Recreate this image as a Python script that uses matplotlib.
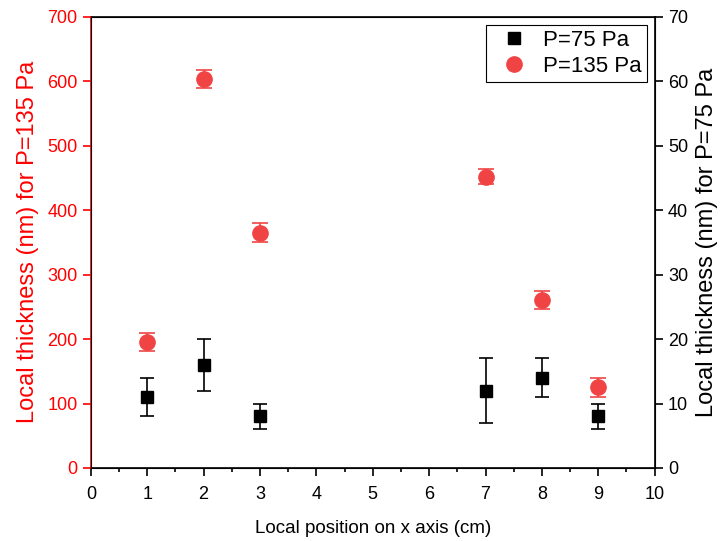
import matplotlib
matplotlib.use('Agg')
matplotlib.rcParams['font.family'] = 'sans-serif'
matplotlib.rcParams['font.sans-serif'] = ['Liberation Sans', 'DejaVu Sans']
matplotlib.rcParams['font.size'] = 13
matplotlib.rcParams['xtick.direction'] = 'out'
matplotlib.rcParams['ytick.direction'] = 'out'
import matplotlib.pyplot as plt
from matplotlib.lines import Line2D
from matplotlib.ticker import MultipleLocator

red = '#F04444'   # markers
axred = '#FF0000'  # left axis

# data
x = [1, 2, 3, 7, 8, 9]
t135 = [196, 603, 365, 452, 261, 125]
e135 = [14, 14, 15, 12, 14, 15]
t75 = [11, 16, 8, 12, 14, 8]
e75 = [3, 4, 2, 5, 3, 2]

fig = plt.figure(figsize=(7.21, 5.41), dpi=100)
ax = fig.add_axes([0.126, 0.135, 0.782, 0.834])
ax2 = ax.twinx()

ax2.errorbar(x, t75, yerr=e75, fmt='s', color='black', ms=9, capsize=5,
             elinewidth=1.2, capthick=1.2)
ax.errorbar(x, t135, yerr=e135, fmt='o', color=red, ms=11, capsize=6,
            elinewidth=1.2, capthick=1.2)

ax.set_xlim(0, 10)
ax.set_ylim(0, 700)
ax2.set_ylim(0, 70)
ax.xaxis.set_major_locator(MultipleLocator(1))
ax.xaxis.set_minor_locator(MultipleLocator(0.5))
ax.yaxis.set_major_locator(MultipleLocator(100))
ax2.yaxis.set_major_locator(MultipleLocator(10))

ax.set_xlabel('Local position on x axis (cm)', fontsize=13.5, labelpad=12)
ax.set_ylabel('Local thickness (nm) for P=135 Pa', fontsize=17, color=axred, labelpad=6)
ax2.set_ylabel('Local thickness (nm) for P=75 Pa', fontsize=17, labelpad=6)

ax.tick_params(axis='y', colors=axred, labelcolor=axred, length=6, width=1.2, labelsize=13)
ax.tick_params(axis='x', which='major', length=6, width=1.2, labelsize=13, pad=7)
ax.tick_params(axis='x', which='minor', length=3, width=1.2)
ax2.tick_params(axis='y', length=6, width=1.2, labelsize=13)
for s in ax2.spines.values():
    s.set_linewidth(1.2)
ax2.spines['left'].set_color(axred)

# keep red circles on top
ax.set_zorder(ax2.get_zorder() + 1)
ax.patch.set_visible(False)

handles = [Line2D([], [], ls='none', marker='s', color='black', ms=9),
           Line2D([], [], ls='none', marker='o', color=red, ms=11)]
leg = ax.legend(handles, ['P=75 Pa', 'P=135 Pa'], loc='upper right',
                fontsize=16, fancybox=False, edgecolor='black', framealpha=1,
                handletextpad=0.3, borderaxespad=0.35, borderpad=0.25,
                labelspacing=0.2, handlelength=2.0)
leg.get_frame().set_linewidth(0.8)

plt.savefig('out.png', dpi=100)
plt.close()
